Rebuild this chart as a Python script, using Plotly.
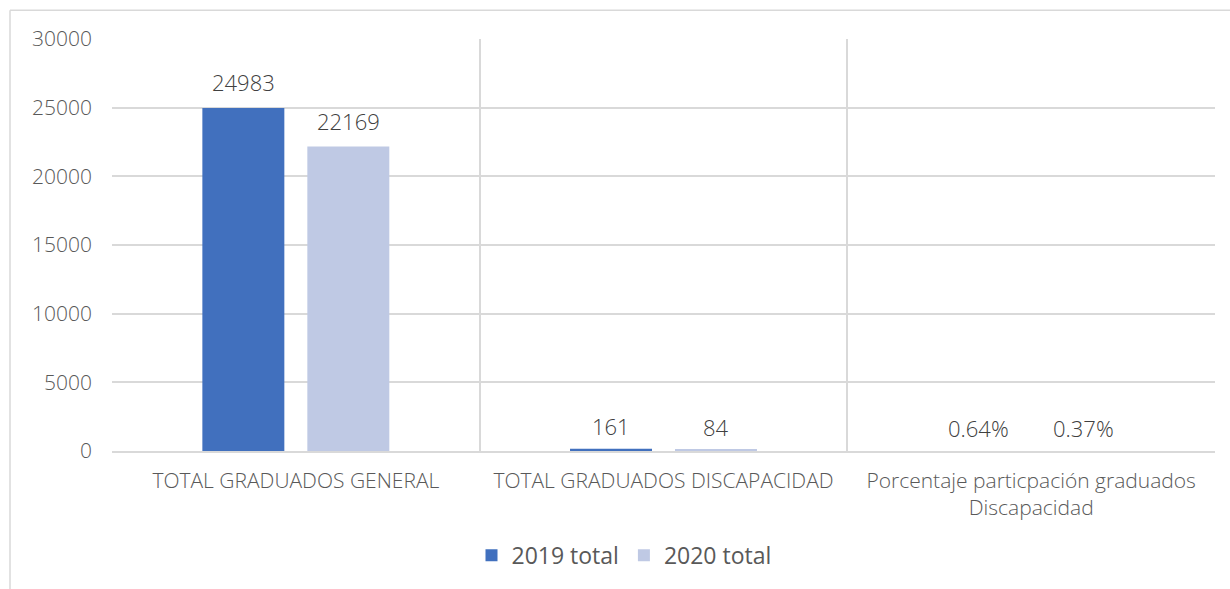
import plotly.graph_objects as go

categories = ["TOTAL GRADUADOS GENERAL", "TOTAL GRADUADOS DISCAPACIDAD",
              "Porcentaje particpación graduados<br>Discapacidad"]
series_names = ["2019 total", "2020 total"]
values_2019 = [24983, 161, 0.0064]
values_2020 = [22169, 84, 0.0037]
labels_2019 = ["24983", "161", "0.64%"]
labels_2020 = ["22169", "84", "0.37%"]
y_ticks = [0, 5000, 10000, 15000, 20000, 25000, 30000]
y_ticktext = ["0", "5000", "10000", "15000", "20000", "25000", "30000"]
colors = ["#4170BE", "#BFC9E4"]

W, H = 1230, 589
L, R, T, B = 112, 15, 39, 135
pw, ph = W - L - R, H - T - B
FONT = "Open Sans, Lato, sans-serif"

fig = go.Figure()
for name, vals, col in zip(series_names, [values_2019, values_2020], colors):
    fig.add_trace(go.Bar(x=categories, y=vals, name=name, marker_color=col,
                         marker_line_width=0))

# data labels above each bar
bar_offset = 52.5
annotations = []
for k, (vals, labs) in enumerate([(values_2019, labels_2019), (values_2020, labels_2020)]):
    for c, v, t in zip(categories, vals, labs):
        annotations.append(dict(x=c, y=v, xref="x", yref="y", text=t, showarrow=False,
                                yanchor="bottom", yshift=(9 if v > 1000 else 6),
                                xshift=(-bar_offset if k == 0 else bar_offset),
                                font=dict(family=FONT, size=22, color="#404040", weight=300)))

gc = "#D9D9D9"
ytop = (T + ph - 10) / ph
xleft = (10 - L) / pw
fig.update_layout(
    width=W, height=H,
    margin=dict(l=L, r=R, t=T, b=B),
    plot_bgcolor="white", paper_bgcolor="white",
    font=dict(family=FONT, color="#595959", size=20, weight=300),
    barmode="group", bargap=0.429, bargroupgap=0.219,
    legend=dict(orientation="h", x=(624 - L) / pw, xanchor="center", y=-105 / ph,
                yanchor="middle", font=dict(size=23, color="#595959", weight=400),
                itemwidth=30),
    xaxis=dict(type="category", tickson="boundaries", showgrid=True, gridcolor=gc,
               gridwidth=1.5, ticks="", showline=True, linecolor=gc, linewidth=1.5,
               automargin=False, ticklabelstandoff=10,
               tickfont=dict(family=FONT, size=21, color="#595959", weight=300)),
    yaxis=dict(range=[0, 30000], tickvals=y_ticks, ticktext=y_ticktext, showgrid=True,
               gridcolor=gc, gridwidth=1.5, zeroline=False, ticks="",
               ticklabelstandoff=19, automargin=False,
               tickfont=dict(family=FONT, size=21, color="#595959", weight=300)),
    annotations=annotations,
    shapes=[
        dict(type="line", xref="paper", yref="paper", x0=xleft, x1=xleft,
             y0=ytop, y1=-B / ph - 0.05, line=dict(color=gc, width=1.5)),
        dict(type="line", xref="paper", yref="paper", x0=xleft, x1=1.1,
             y0=ytop, y1=ytop, line=dict(color=gc, width=1.5)),
    ],
)
fig.write_html("out.html", config={"displayModeBar": False},
               post_script="document.body.style.margin='0';document.body.style.overflow='hidden';")
